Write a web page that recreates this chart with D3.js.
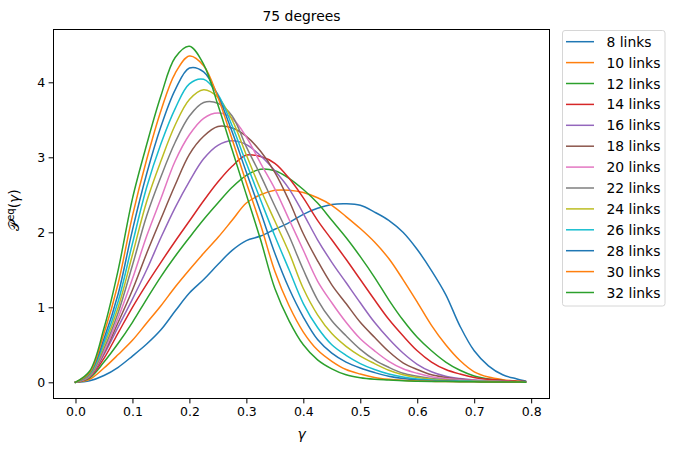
<!DOCTYPE html>
<html>
<head>
<meta charset="utf-8">
<script src="https://cdn.jsdelivr.net/npm/d3@7"></script>
<style>
  body { margin: 0; background: #fff; }
  text { font-family: "DejaVu Sans", sans-serif; }
</style>
</head>
<body>
<script>
const gamma = [0, 0.025, 0.05, 0.075, 0.1, 0.125, 0.15, 0.175, 0.2, 0.225, 0.25, 0.275, 0.3, 0.325, 0.35, 0.375, 0.4,
  0.425, 0.45, 0.475, 0.5, 0.525, 0.55, 0.575, 0.6, 0.625, 0.65, 0.675, 0.7, 0.725, 0.75, 0.775, 0.79];

const links8 = [0, 0.02, 0.09, 0.2, 0.35, 0.51, 0.7, 0.95, 1.19, 1.37, 1.57, 1.76, 1.89, 1.95, 2.04, 2.13, 2.24,
  2.32, 2.37, 2.38, 2.36, 2.27, 2.16, 2.0, 1.77, 1.49, 1.17, 0.75, 0.42, 0.22, 0.1, 0.045, 0.018];
const links10 = [0, 0.04, 0.19, 0.37, 0.56, 0.79, 1.02, 1.27, 1.5, 1.72, 1.93, 2.16, 2.39, 2.5, 2.56, 2.56, 2.53,
  2.46, 2.36, 2.21, 2.05, 1.87, 1.65, 1.37, 1.07, 0.76, 0.5, 0.29, 0.14, 0.07, 0.035, 0.015, 0.008];
const links12 = [0, 0.06, 0.27, 0.52, 0.8, 1.11, 1.41, 1.68, 1.93, 2.17, 2.39, 2.6, 2.76, 2.84, 2.82, 2.72, 2.57,
  2.39, 2.16, 1.93, 1.675, 1.4, 1.1, 0.83, 0.6, 0.42, 0.27, 0.16, 0.085, 0.045, 0.025, 0.012, 0.008];
const links14 = [0, 0.07, 0.32, 0.66, 1.0, 1.31, 1.6, 1.88, 2.15, 2.42, 2.67, 2.88, 3.03, 3.01, 2.92, 2.72, 2.46,
  2.16, 1.9, 1.64, 1.37, 1.1, 0.84, 0.62, 0.42, 0.27, 0.17, 0.11, 0.065, 0.04, 0.025, 0.015, 0.01];
const links16 = [0, 0.075, 0.37, 0.74, 1.11, 1.5, 1.93, 2.33, 2.68, 2.98, 3.16, 3.22, 3.17, 3.02, 2.82, 2.58, 2.25,
  1.9, 1.6, 1.33, 1.06, 0.8, 0.58, 0.39, 0.24, 0.14, 0.08, 0.05, 0.03, 0.02, 0.012, 0.008, 0.006];
const links18 = [0, 0.08, 0.39, 0.8, 1.23, 1.72, 2.18, 2.63, 3.04, 3.28, 3.41, 3.39, 3.28, 3.08, 2.8, 2.42, 1.98,
  1.62, 1.3, 1.05, 0.8, 0.6, 0.41, 0.26, 0.17, 0.1, 0.065, 0.04, 0.025, 0.015, 0.01, 0.007, 0.005];
const links20 = [0, 0.085, 0.41, 0.86, 1.38, 1.95, 2.45, 2.95, 3.3, 3.52, 3.59, 3.52, 3.27, 2.92, 2.58, 2.17, 1.76,
  1.35, 1.06, 0.8, 0.58, 0.42, 0.28, 0.18, 0.12, 0.075, 0.05, 0.035, 0.025, 0.017, 0.012, 0.008, 0.006];
const links22 = [0, 0.09, 0.45, 0.93, 1.56, 2.22, 2.74, 3.2, 3.55, 3.73, 3.72, 3.55, 3.14, 2.76, 2.35, 1.95, 1.5,
  1.1, 0.82, 0.62, 0.44, 0.3, 0.2, 0.12, 0.08, 0.05, 0.035, 0.025, 0.018, 0.013, 0.01, 0.007, 0.005];
const links24 = [0, 0.1, 0.49, 1.0, 1.7, 2.41, 2.95, 3.43, 3.77, 3.9, 3.8, 3.5, 3.03, 2.57, 2.15, 1.73, 1.25,
  0.9, 0.65, 0.48, 0.35, 0.25, 0.16, 0.1, 0.065, 0.04, 0.028, 0.02, 0.014, 0.01, 0.008, 0.006, 0.004];
const links26 = [0, 0.11, 0.53, 1.08, 1.85, 2.6, 3.18, 3.65, 3.98, 4.04, 3.84, 3.42, 2.92, 2.43, 1.95, 1.5, 1.05,
  0.73, 0.5, 0.36, 0.25, 0.17, 0.11, 0.07, 0.045, 0.03, 0.02, 0.015, 0.011, 0.008, 0.006, 0.005, 0.003];
const links28 = [0, 0.12, 0.58, 1.18, 2.03, 2.78, 3.41, 3.9, 4.19, 4.14, 3.82, 3.34, 2.8, 2.27, 1.72, 1.25, 0.87,
  0.57, 0.39, 0.27, 0.19, 0.13, 0.08, 0.05, 0.032, 0.022, 0.016, 0.012, 0.009, 0.007, 0.005, 0.004, 0.003];
const links30 = [0, 0.13, 0.65, 1.32, 2.22, 2.97, 3.62, 4.12, 4.35, 4.22, 3.8, 3.24, 2.66, 2.1, 1.48, 1.02, 0.67,
  0.43, 0.28, 0.17, 0.11, 0.065, 0.04, 0.026, 0.018, 0.013, 0.01, 0.008, 0.006, 0.005, 0.004, 0.003, 0.002];
const links32 = [0, 0.15, 0.72, 1.5, 2.45, 3.17, 3.82, 4.33, 4.48, 4.24, 3.7, 3.1, 2.5, 1.9, 1.25, 0.82, 0.5,
  0.3, 0.18, 0.1, 0.06, 0.04, 0.03, 0.02, 0.015, 0.012, 0.01, 0.008, 0.006, 0.005, 0.004, 0.003, 0.002];

const labels = ["8 links", "10 links", "12 links", "14 links", "16 links", "18 links", "20 links",
  "22 links", "24 links", "26 links", "28 links", "30 links", "32 links"];
const seriesValues = [links8, links10, links12, links14, links16, links18, links20,
  links22, links24, links26, links28, links30, links32];
const xTicks = [0, 0.1, 0.2, 0.3, 0.4, 0.5, 0.6, 0.7, 0.8];
const yTicks = [0, 1, 2, 3, 4];

const colors = ["#1f77b4", "#ff7f0e", "#2ca02c", "#d62728", "#9467bd", "#8c564b",
  "#e377c2", "#7f7f7f", "#bcbd22", "#17becf"];

const w = 675;
const h = 453;
const plot = { left: 53.5, right: 549.5, top: 29.5, bottom: 398.5 };

const svg = d3.select("body")
  .append("svg")
  .attr("width", w)
  .attr("height", h);

svg.append("rect").attr("width", w).attr("height", h).attr("fill", "#fff");

const x = d3.scaleLinear().domain([-0.0386, 0.8322]).range([plot.left, plot.right]);
const y = d3.scaleLinear().domain([-0.216, 4.704]).range([plot.bottom, plot.top]);

const line = d3.line()
  .x((d) => x(d[0]))
  .y((d) => y(d[1]))
  .curve(d3.curveCatmullRom.alpha(0.5));

svg.append("g")
  .selectAll("path")
  .data(seriesValues)
  .enter()
  .append("path")
  .attr("d", (vals) => line(gamma.map((g, i) => [g, vals[i]])))
  .attr("fill", "none")
  .attr("stroke", (d, i) => colors[i % 10])
  .attr("stroke-width", 1.5)
  .attr("stroke-linejoin", "round")
  .attr("stroke-linecap", "square");

// axes
const xAxis = d3.axisBottom(x).tickValues(xTicks).tickFormat(d3.format(".1f")).tickSize(4.9).tickPadding(3.5);
const yAxis = d3.axisLeft(y).tickValues(yTicks).tickFormat(d3.format("d")).tickSize(4.9).tickPadding(3.5);

svg.append("g")
  .attr("transform", `translate(0,${plot.bottom})`)
  .call(xAxis)
  .call((g) => g.select(".domain").remove());

svg.append("g")
  .attr("transform", `translate(${plot.left},0)`)
  .call(yAxis)
  .call((g) => g.select(".domain").remove());

svg.selectAll(".tick line").attr("stroke", "#000").attr("stroke-width", 1);
svg.selectAll(".tick text")
  .attr("fill", "#000")
  .style("font-size", "12.5px")
  .style("font-family", "DejaVu Sans");

svg.append("rect")
  .attr("x", plot.left)
  .attr("y", plot.top)
  .attr("width", plot.right - plot.left)
  .attr("height", plot.bottom - plot.top)
  .attr("fill", "none")
  .attr("stroke", "#000")
  .attr("stroke-width", 1);

// title and labels
svg.append("text")
  .attr("x", (plot.left + plot.right) / 2)
  .attr("y", 20.7)
  .attr("text-anchor", "middle")
  .style("font-size", "13.9px")
  .text("75 degrees");

svg.append("text")
  .attr("x", (plot.left + plot.right) / 2)
  .attr("y", 439)
  .attr("text-anchor", "middle")
  .style("font-size", "13.9px")
  .style("font-style", "italic")
  .text("γ");

const ylab = svg.append("text")
  .attr("transform", "translate(19,210) rotate(-90)")
  .attr("text-anchor", "middle")
  .style("font-size", "13.9px");
ylab.append("tspan").text("𝒫");
ylab.append("tspan").attr("dy", -5).style("font-size", "10px").text("eq");
ylab.append("tspan").attr("dy", 5).text("(");
ylab.append("tspan").style("font-style", "italic").text("γ");
ylab.append("tspan").text(")");

// legend
const legend = svg.append("g").attr("id", "legend");
legend.append("rect")
  .attr("x", 562.5)
  .attr("y", 30.5)
  .attr("width", 102.5)
  .attr("height", 275.5)
  .attr("rx", 2.5)
  .attr("fill", "#fff")
  .attr("stroke", "#d6d6d6")
  .attr("stroke-width", 1);

const rows = legend.selectAll("g.row")
  .data(labels)
  .enter()
  .append("g")
  .attr("class", "row")
  .attr("transform", (d, i) => `translate(0,${41.7 + i * 20.9})`);

rows.append("line")
  .attr("x1", 566)
  .attr("x2", 594)
  .attr("stroke", (d, i) => colors[i % 10])
  .attr("stroke-width", 1.5);

rows.append("text")
  .attr("x", 606.5)
  .attr("y", 5)
  .style("font-size", "13.9px")
  .text((d) => d);
</script>
</body>
</html>
